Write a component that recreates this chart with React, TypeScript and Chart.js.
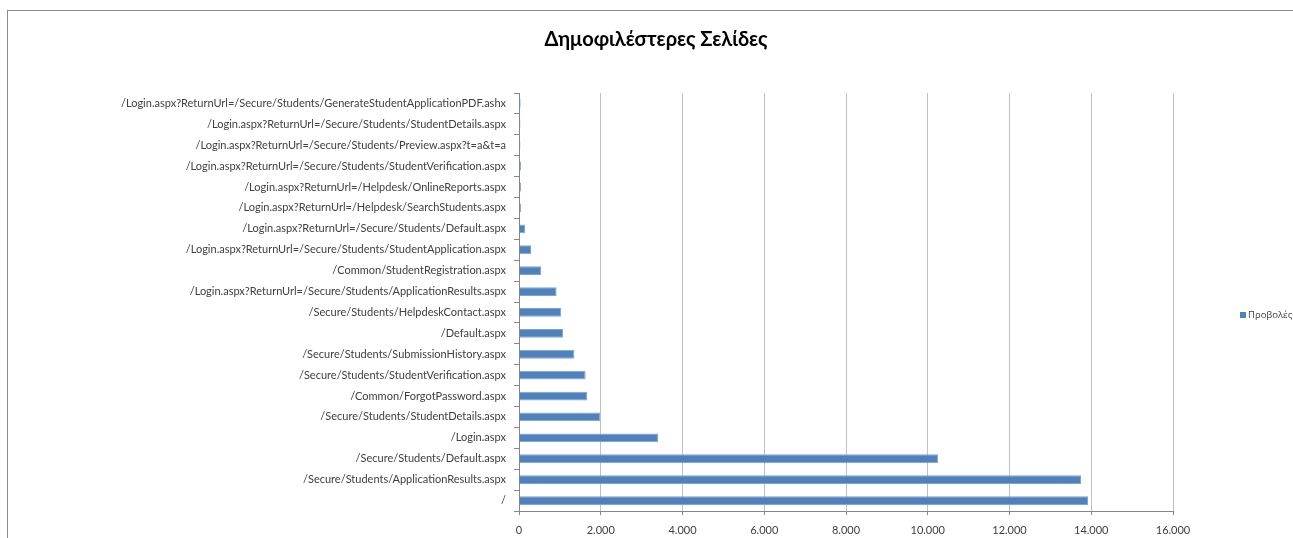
import React, { useEffect, useRef } from "react";
import { Chart, registerables, layouts } from "chart.js";

Chart.register(...registerables);

const chartTitle = "Δημοφιλέστερες Σελίδες";
const seriesName = "Προβολές";

const pages = [
  "/Login.aspx?ReturnUrl=/Secure/Students/GenerateStudentApplicationPDF.ashx",
  "/Login.aspx?ReturnUrl=/Secure/Students/StudentDetails.aspx",
  "/Login.aspx?ReturnUrl=/Secure/Students/Preview.aspx?t=a&t=a",
  "/Login.aspx?ReturnUrl=/Secure/Students/StudentVerification.aspx",
  "/Login.aspx?ReturnUrl=/Helpdesk/OnlineReports.aspx",
  "/Login.aspx?ReturnUrl=/Helpdesk/SearchStudents.aspx",
  "/Login.aspx?ReturnUrl=/Secure/Students/Default.aspx",
  "/Login.aspx?ReturnUrl=/Secure/Students/StudentApplication.aspx",
  "/Common/StudentRegistration.aspx",
  "/Login.aspx?ReturnUrl=/Secure/Students/ApplicationResults.aspx",
  "/Secure/Students/HelpdeskContact.aspx",
  "/Default.aspx",
  "/Secure/Students/SubmissionHistory.aspx",
  "/Secure/Students/StudentVerification.aspx",
  "/Common/ForgotPassword.aspx",
  "/Secure/Students/StudentDetails.aspx",
  "/Login.aspx",
  "/Secure/Students/Default.aspx",
  "/Secure/Students/ApplicationResults.aspx",
  "/",
];

const views = [
  40, 35, 35, 50, 50, 50, 155, 294, 546, 920,
  1035, 1076, 1355, 1630, 1670, 1990, 3400, 10250, 13750, 13920,
];

const axisMax = 16000;
const axisStep = 2000;

const FONT = "Lato, 'Open Sans', sans-serif";
const LEGEND_FONT = "'Open Sans', sans-serif";
const LEGEND_SPACE = 139;

const fmt = (v: number) => String(v).replace(/\B(?=(\d{3})+(?!\d))/g, ".");

// A right-side layout box that reserves space and draws the series legend in it.
const sideLegendPlugin = {
  id: "sideLegend",
  beforeInit(chart: any) {
    const box: any = {
      position: "right",
      weight: 1000,
      fullSize: false,
      options: {},
      width: 0,
      height: 0,
      left: 0,
      top: 0,
      right: 0,
      bottom: 0,
      isHorizontal() {
        return false;
      },
      update(_maxWidth: number, maxHeight: number) {
        this.width = LEGEND_SPACE;
        this.height = maxHeight;
      },
      draw() {
        const ctx = chart.ctx;
        const ds = chart.data.datasets[0];
        const area = chart.chartArea;
        const x = this.left + 67;
        const y = (area.top + area.bottom) / 2 + 13;
        ctx.save();
        ctx.fillStyle = ds.backgroundColor;
        ctx.fillRect(x, y - 3, 6, 6);
        ctx.fillStyle = "#404040";
        ctx.font = `9.5px ${LEGEND_FONT}`;
        ctx.textBaseline = "middle";
        ctx.textAlign = "left";
        ctx.fillText(ds.label, x + 8, y);
        ctx.restore();
      },
    };
    layouts.addBox(chart, box);
  },
};

export default function App() {
  const ref = useRef<HTMLCanvasElement | null>(null);

  useEffect(() => {
    if (!ref.current) return;
    const chart = new Chart(ref.current, {
      type: "bar",
      data: {
        labels: pages,
        datasets: [
          {
            label: seriesName,
            data: views,
            backgroundColor: "#4F81BD",
            borderColor: "#7FA3D0",
            borderWidth: 1,
            barPercentage: 0.42,
            categoryPercentage: 1,
          },
        ],
      },
      options: {
        indexAxis: "y",
        animation: false,
        responsive: true,
        maintainAspectRatio: false,
        devicePixelRatio: 1,
        layout: { padding: 0 },
        plugins: {
          legend: { display: false },
          tooltip: { enabled: false },
          title: {
            display: true,
            text: chartTitle,
            color: "#000",
            font: { family: FONT, size: 20, weight: "bold" },
            padding: { top: 28, bottom: 41 },
          },
        },
        scales: {
          x: {
            min: 0,
            max: axisMax,
            ticks: {
              stepSize: axisStep,
              color: "#404040",
              font: { family: FONT, size: 11 },
              padding: 9,
              callback: (v: any) => fmt(Number(v)),
            },
            grid: {
              color: "#C0C0C0",
              tickLength: 4,
              tickColor: "#868686",
            },
            border: { color: "#868686" },
            afterFit: (s: any) => {
              s.height = 27;
            },
          },
          y: {
            ticks: {
              color: "#404040",
              font: { family: FONT, size: 11 },
              padding: 8,
              autoSkip: false,
            },
            grid: {
              offset: true,
              drawOnChartArea: false,
              drawTicks: true,
              tickLength: 5,
              color: "#868686",
            },
            border: { color: "#868686" },
            afterFit: (s: any) => {
              s.width = 519;
            },
          },
        },
      },
      plugins: [sideLegendPlugin],
    });
    return () => chart.destroy();
  }, []);

  return (
    <div style={{ position: "fixed", inset: 0, overflow: "hidden", background: "#fff" }}>
      <div
        style={{
          position: "absolute",
          left: 7,
          top: 10,
          width: 1320,
          height: 600,
          borderTop: "1.5px solid #8C8C8C",
          borderLeft: "1.5px solid #8C8C8C",
          boxSizing: "border-box",
        }}
      />
      <div style={{ position: "absolute", left: 0, top: 0, width: 1312, height: 538 }}>
        <canvas ref={ref} />
      </div>
    </div>
  );
}
